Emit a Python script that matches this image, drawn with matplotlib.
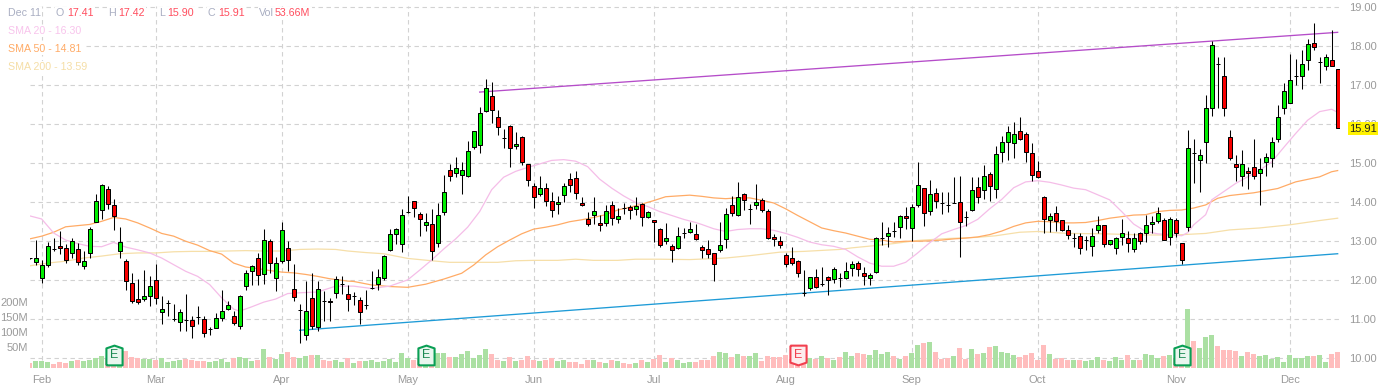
import numpy as np
import matplotlib
matplotlib.use("Agg")
import matplotlib.pyplot as plt
from matplotlib.transforms import blended_transform_factory

plt.rcParams['font.family'] = ['Liberation Sans', 'DejaVu Sans']

# === DATA: one value per trading day ===
opens = [
    12.56, 12.47, 12.06, 12.39, 12.81, 12.88, 12.82, 12.70, 12.80, 12.37,
    12.70, 13.50, 13.80, 14.34, 13.93, 12.75, 12.50, 11.93, 11.52, 11.52,
    11.60, 12.01, 11.18, 11.42, 11.02, 10.93, 10.98, 10.98, 11.07, 11.01,
    10.75, 10.78, 11.03, 11.27, 11.09, 10.83, 11.85, 12.24, 12.57, 12.16,
    13.01, 12.06, 12.50, 12.82, 11.78, 11.23, 10.61, 11.55, 10.80, 11.47,
    11.47, 11.67, 11.91, 11.65, 11.59, 11.49, 11.36, 11.80, 11.91, 12.05,
    12.78, 13.18, 12.92, 13.75, 14.04, 13.69, 13.41, 13.44, 12.95, 13.74,
    14.82, 14.74, 14.69, 14.67, 15.41, 15.46, 16.33, 16.72, 16.18, 15.64,
    15.95, 15.44, 15.67, 14.97, 14.41, 14.20, 14.36, 14.03, 13.95, 14.18,
    14.59, 14.62, 13.97, 13.56, 13.67, 13.46, 13.46, 13.92, 13.56, 13.85,
    13.87, 13.82, 13.95, 13.62, 13.54, 13.31, 13.00, 12.87, 12.82, 13.20,
    13.23, 13.18, 12.86, 12.80, 12.70, 12.78, 13.06, 13.93, 13.68, 14.21,
    13.83, 13.93, 14.06, 13.78, 13.11, 13.01, 12.65, 12.57, 12.50, 11.68,
    11.80, 12.09, 11.91, 12.09, 12.03, 12.06, 12.06, 12.32, 12.45, 12.19,
    12.06, 12.21, 13.09, 13.13, 13.27, 13.36, 13.64, 13.33, 13.92, 14.36,
    13.77, 14.23, 13.99, 13.94, 13.97, 14.00, 13.63, 13.79, 14.38, 14.31,
    14.72, 14.33, 15.28, 15.54, 15.51, 15.82, 15.74, 15.26, 14.79, 14.13,
    13.54, 13.72, 13.54, 13.28, 13.09, 13.13, 13.04, 12.87, 13.28, 13.41,
    12.92, 12.82, 13.10, 13.08, 12.79, 13.21, 13.21, 13.44, 13.51, 13.54,
    13.10, 13.54, 12.95, 13.36, 15.25, 15.07, 15.55, 16.40, 17.55, 17.22,
    15.68, 14.99, 14.68, 14.81, 14.91, 14.76, 15.04, 15.12, 15.63, 16.40,
    16.55, 17.22, 17.22, 17.63, 18.07, 17.60, 17.48, 17.63, 17.41,
]
highs = [
    12.57, 13.03, 12.53, 12.99, 13.09, 13.25, 12.92, 13.09, 12.96, 12.74,
    13.37, 14.20, 14.47, 14.41, 14.07, 13.37, 12.55, 12.19, 12.03, 12.27,
    12.12, 12.42, 11.61, 11.50, 11.38, 11.27, 11.66, 11.09, 11.35, 11.09,
    10.80, 11.16, 11.74, 11.48, 11.21, 11.63, 12.27, 12.40, 12.70, 13.32,
    13.06, 12.60, 13.50, 13.01, 12.42, 11.38, 11.97, 12.19, 11.97, 11.72,
    11.55, 12.12, 12.12, 11.89, 11.71, 11.58, 11.76, 12.25, 12.30, 12.65,
    13.32, 13.35, 13.82, 14.16, 14.04, 13.75, 13.72, 13.82, 13.97, 14.69,
    14.98, 15.15, 15.02, 15.57, 15.82, 16.44, 17.15, 17.08, 16.37, 15.88,
    15.97, 15.80, 15.70, 14.97, 14.49, 14.67, 14.50, 14.27, 14.15, 14.50,
    14.74, 14.80, 14.13, 13.74, 14.13, 13.67, 13.92, 14.03, 13.85, 13.97,
    13.93, 14.13, 13.97, 13.77, 13.54, 13.33, 13.46, 12.92, 13.36, 13.33,
    13.50, 13.44, 12.91, 13.04, 12.70, 13.50, 13.85, 14.17, 14.52, 14.24,
    13.96, 14.47, 14.11, 13.83, 13.19, 13.14, 12.70, 12.86, 12.52, 12.27,
    12.09, 12.29, 12.34, 12.12, 12.34, 12.19, 12.46, 12.50, 12.50, 12.34,
    12.19, 13.11, 13.50, 13.36, 13.50, 13.67, 13.87, 13.95, 15.03, 14.36,
    14.57, 14.36, 14.26, 14.26, 14.64, 14.66, 13.78, 14.64, 14.64, 14.95,
    14.77, 15.44, 15.69, 15.95, 16.05, 16.18, 15.79, 15.51, 15.05, 14.15,
    13.72, 13.90, 13.54, 13.41, 13.21, 13.21, 13.14, 13.33, 13.64, 13.41,
    13.02, 13.10, 13.56, 13.26, 13.21, 13.23, 13.67, 13.64, 13.87, 13.59,
    13.62, 13.59, 12.95, 15.85, 15.61, 15.37, 16.74, 18.12, 17.71, 17.71,
    15.86, 15.22, 15.33, 14.91, 15.63, 15.12, 15.25, 15.68, 16.48, 17.04,
    17.79, 17.66, 17.89, 18.17, 18.58, 17.71, 17.79, 18.40, 17.42,
]
lows = [
    12.55, 12.40, 11.92, 12.33, 12.74, 12.67, 12.44, 12.56, 12.39, 12.29,
    12.58, 13.49, 13.56, 13.83, 13.30, 12.57, 11.74, 11.42, 11.38, 11.46,
    11.33, 11.38, 10.87, 11.08, 10.97, 10.69, 10.71, 10.51, 10.89, 10.56,
    10.61, 10.78, 10.97, 11.23, 10.85, 10.74, 11.76, 11.89, 11.89, 11.91,
    12.19, 11.72, 12.45, 12.23, 11.46, 10.39, 10.48, 10.74, 10.69, 10.95,
    10.95, 11.55, 11.66, 11.21, 11.36, 10.88, 11.27, 11.78, 11.76, 12.02,
    12.76, 12.93, 12.73, 13.72, 13.63, 13.14, 13.25, 12.52, 12.86, 13.66,
    14.53, 14.64, 14.21, 14.64, 15.37, 15.27, 16.32, 16.04, 15.73, 15.38,
    14.89, 15.36, 14.96, 14.42, 13.86, 14.16, 13.89, 13.62, 13.71, 14.00,
    14.27, 14.08, 13.89, 13.38, 13.44, 13.27, 13.39, 13.41, 13.46, 13.70,
    13.56, 13.68, 13.39, 13.59, 12.98, 12.85, 12.92, 12.46, 12.79, 13.08,
    13.20, 13.02, 12.57, 12.57, 11.97, 12.72, 12.83, 13.64, 13.64, 13.80,
    13.43, 13.83, 13.75, 13.07, 12.87, 12.82, 12.34, 12.39, 12.08, 11.59,
    11.74, 11.80, 11.85, 11.62, 11.92, 11.82, 12.03, 12.10, 12.10, 11.89,
    11.87, 12.19, 12.91, 12.86, 13.12, 13.09, 13.32, 13.00, 13.87, 13.40,
    13.68, 13.85, 13.70, 13.74, 13.97, 12.59, 13.39, 13.77, 13.97, 14.08,
    14.04, 14.11, 15.03, 15.08, 15.14, 15.59, 15.03, 14.54, 14.61, 13.22,
    13.24, 13.25, 13.26, 13.07, 12.86, 12.67, 12.78, 12.63, 13.21, 12.84,
    12.90, 12.68, 12.90, 12.72, 12.73, 12.93, 12.97, 13.21, 13.46, 13.02,
    12.91, 13.10, 12.41, 13.27, 14.50, 14.26, 15.01, 16.21, 16.42, 16.21,
    15.09, 14.55, 14.42, 14.34, 14.60, 13.93, 14.68, 14.91, 15.53, 16.26,
    16.53, 16.99, 16.91, 17.38, 17.91, 17.06, 17.38, 17.48, 15.90,
]
closes = [
    12.56, 12.57, 12.39, 12.87, 12.81, 12.83, 12.52, 13.01, 12.48, 12.50,
    13.32, 14.03, 14.44, 13.96, 13.65, 12.98, 11.98, 11.47, 11.45, 11.60,
    11.85, 11.55, 11.27, 11.42, 11.02, 11.19, 10.98, 10.83, 11.07, 10.65,
    10.75, 11.03, 11.21, 11.37, 10.91, 11.60, 12.19, 12.37, 12.13, 13.03,
    12.45, 12.45, 13.29, 12.52, 11.57, 11.23, 11.21, 10.83, 11.78, 11.47,
    11.45, 12.03, 11.91, 11.52, 11.59, 11.19, 11.36, 11.80, 12.09, 12.61,
    13.18, 13.31, 13.67, 13.75, 13.85, 13.56, 13.48, 12.74, 13.67, 14.26,
    14.67, 14.87, 14.82, 15.31, 15.82, 16.28, 16.92, 16.36, 15.92, 15.64,
    15.38, 15.49, 15.03, 14.56, 14.13, 14.36, 14.03, 13.80, 14.00, 14.41,
    14.44, 14.23, 13.92, 13.44, 13.77, 13.41, 13.77, 13.59, 13.64, 13.85,
    13.79, 13.90, 13.62, 13.74, 13.49, 12.90, 13.08, 12.77, 13.13, 13.20,
    13.31, 13.05, 12.78, 12.68, 12.42, 12.91, 13.70, 13.73, 14.14, 14.06,
    13.83, 14.01, 13.80, 13.09, 13.06, 12.91, 12.42, 12.45, 12.19, 11.68,
    12.09, 11.83, 11.91, 12.01, 12.29, 12.06, 12.24, 12.42, 12.29, 12.11,
    12.14, 13.09, 13.09, 13.21, 13.27, 13.64, 13.59, 13.87, 14.44, 13.72,
    14.21, 14.03, 13.99, 13.94, 13.97, 13.49, 13.63, 14.31, 14.13, 14.67,
    14.41, 15.23, 15.54, 15.79, 15.74, 15.62, 15.28, 14.69, 14.64, 13.56,
    13.64, 13.51, 13.28, 13.15, 13.09, 12.82, 13.04, 13.13, 13.41, 12.92,
    13.02, 13.08, 13.21, 12.95, 13.08, 13.00, 13.41, 13.49, 13.72, 13.02,
    13.56, 13.21, 12.51, 15.40, 15.25, 15.22, 16.40, 18.02, 17.55, 16.40,
    15.12, 14.89, 14.99, 14.74, 14.68, 14.86, 15.17, 15.55, 16.17, 16.86,
    17.14, 17.22, 17.53, 18.04, 17.97, 17.60, 17.71, 17.50, 15.91,
]
volumes = [
    19, 23, 26, 22, 16, 21, 19, 23, 28, 24,
    29, 36, 42, 30, 32, 35, 58, 38, 33, 31,
    31, 28, 34, 22, 26, 28, 31, 28, 23, 26,
    21, 23, 32, 22, 33, 38, 33, 26, 28, 64,
    39, 32, 48, 54, 38, 34, 41, 44, 44, 29,
    26, 28, 20, 33, 17, 23, 23, 27, 21, 23,
    32, 20, 50, 33, 27, 30, 30, 40, 50, 50,
    37, 37, 47, 57, 33, 43, 63, 47, 27, 23,
    37, 23, 27, 40, 27, 23, 27, 33, 23, 27,
    20, 20, 13, 27, 27, 20, 17, 27, 23, 17,
    13, 17, 27, 20, 30, 43, 20, 33, 27, 17,
    20, 21, 27, 29, 40, 53, 50, 37, 47, 40,
    40, 50, 23, 40, 37, 37, 43, 30, 30, 30,
    33, 30, 40, 33, 27, 37, 53, 40, 50, 47,
    43, 60, 47, 53, 40, 30, 40, 50, 77, 83,
    87, 53, 30, 33, 40, 67, 30, 63, 47, 50,
    70, 73, 53, 50, 43, 37, 43, 50, 27, 77,
    47, 30, 33, 27, 27, 27, 23, 27, 37, 27,
    23, 37, 27, 43, 27, 27, 47, 43, 33, 40,
    43, 35, 40, 197, 90, 67, 103, 110, 73, 60,
    60, 57, 40, 53, 47, 40, 43, 30, 37, 20,
    43, 33, 33, 40, 40, 43, 20, 47, 53.66,
]
# days with open == close whose volume bar is red
doji_down = [0, 4, 26, 28, 49, 99, 129, 135, 144, 152, 153, 156, 194, 198]

# moving averages, read at the listed days
sma20_days = [0, 2, 4, 6, 8, 10, 12, 14, 16, 18, 20, 22, 24, 26, 28, 30, 32, 34, 35, 37, 39, 41, 43, 45, 48, 51,
              54, 57, 60, 63, 65, 67, 69, 71, 73, 75, 77, 79, 81, 83, 85, 87, 89, 91, 93, 95, 97, 99, 101, 103,
              105, 107, 109, 111, 112, 114, 116, 118, 120, 122, 124, 126, 128, 130, 132, 134, 136, 138, 140,
              142, 144, 146, 148, 150, 152, 154, 156, 158, 160, 162, 164, 166, 168, 170, 172, 174, 176, 178,
              180, 182, 184, 186, 188, 191, 192, 193, 194, 196, 197, 199, 201, 203, 205, 207, 209, 211, 213,
              215, 217, 218]
sma20 = [13.65, 13.57, 13.21, 13.03, 12.94, 12.87, 12.86, 12.97, 12.85, 12.78, 12.70, 12.57, 12.40, 12.23, 12.10,
         11.89, 11.55, 11.26, 11.21, 11.32, 11.44, 11.52, 11.66, 11.68, 11.70, 11.85,
         11.85, 11.79, 11.85, 12.01, 12.26, 12.52, 12.80, 13.06, 13.36, 13.76, 14.32, 14.64, 14.79, 14.89, 14.98,
         15.07, 15.09, 15.05, 14.91, 14.59, 14.36, 14.16, 13.99, 13.89, 13.76, 13.66, 13.56, 13.48,
         13.43, 13.32, 13.25, 13.30, 13.32, 13.32, 13.28, 13.20, 13.10, 12.98, 12.91, 12.87, 12.79, 12.60, 12.44,
         12.36, 12.36, 12.46, 12.70, 12.96, 13.19, 13.30, 13.40, 13.56, 13.83, 14.07, 14.37, 14.52, 14.55,
         14.51, 14.44, 14.36, 14.32, 14.19, 14.06, 13.76, 13.44, 13.25, 13.19, 13.16, 13.14, 13.22, 13.42, 13.68,
         14.06, 14.27, 14.48, 14.65, 14.82, 15.03, 15.40, 15.76, 16.10, 16.32, 16.38, 16.30]

sma50_days = [0, 2, 4, 6, 8, 10, 12, 14, 16, 18, 20, 22, 24, 26, 28, 30, 32, 34, 36, 38, 40, 42, 44, 46, 48, 50, 53,
              54, 57, 60, 63, 66, 69, 72, 74, 76, 78, 80, 82, 84, 86, 88, 90, 92, 94, 96, 98, 100, 102, 104, 106,
              108, 110, 112, 114, 116, 118, 120, 122, 124, 126, 128, 130, 132, 134, 136, 138, 140, 142, 144, 146,
              148, 150, 152, 154, 156, 158, 160, 162, 164, 166, 168, 170, 172, 174, 176, 178, 180, 182, 184, 186,
              188, 190, 192, 194, 196, 198, 200, 204, 208, 211, 215, 217, 218]
sma50 = [13.06, 13.13, 13.23, 13.37, 13.40, 13.43, 13.51, 13.61, 13.57, 13.47, 13.34, 13.20, 13.13, 13.00, 12.90,
         12.76, 12.67, 12.44, 12.34, 12.30, 12.25, 12.21, 12.19, 12.15, 12.10, 12.04, 11.98,
         11.97, 11.88, 11.84, 11.82, 11.90, 12.03, 12.18, 12.39, 12.65, 12.86, 13.03, 13.19, 13.31, 13.36, 13.42,
         13.50, 13.55, 13.61, 13.68, 13.80, 13.87, 13.95, 14.04, 14.14, 14.16, 14.18,
         14.15, 14.11, 14.09, 14.11, 14.11, 14.05, 13.98, 13.83, 13.66, 13.50, 13.34, 13.27, 13.21, 13.13, 13.05,
         13.03, 12.98, 13.00, 13.00, 13.01, 13.03, 13.06, 13.08, 13.11, 13.17, 13.26, 13.38, 13.47, 13.51,
         13.50, 13.47, 13.47, 13.48, 13.53, 13.59, 13.63, 13.67, 13.68, 13.76, 13.79, 13.80, 13.85, 13.93, 14.10,
         14.17, 14.24, 14.35, 14.52, 14.65, 14.78, 14.81]

sma200_days = [0, 3, 6, 9, 12, 15, 18, 21, 24, 27, 30, 33, 36, 39, 42, 45, 48, 51, 53, 56, 59, 63, 67, 70, 75, 78,
               81, 84, 88, 91, 94, 98, 101, 105, 110, 116, 120, 125, 129, 135, 137, 141, 144, 148, 153, 158, 161,
               165, 168, 173, 179, 186, 191, 196, 200, 205, 210, 215, 218]
sma200 = [12.37, 12.44, 12.49, 12.57, 12.62, 12.68, 12.70, 12.70, 12.73, 12.74, 12.74, 12.75, 12.76, 12.75, 12.75,
          12.79, 12.80, 12.79, 12.75, 12.71, 12.68, 12.56, 12.50, 12.46, 12.46, 12.46,
          12.50, 12.51, 12.51, 12.54, 12.51, 12.51, 12.54, 12.54, 12.53, 12.57, 12.63, 12.72, 12.74, 12.79, 12.83,
          12.89, 12.94, 13.02, 13.07, 13.10, 13.14, 13.23, 13.25, 13.20, 13.19, 13.16, 13.16, 13.20, 13.29, 13.34,
          13.42, 13.53, 13.59]

# trend lines
resist_days = [75, 218]
resist_vals = [16.82, 18.35]
support_days = [45, 218]
support_vals = [10.72, 12.68]

month_days = [2, 21, 42, 63, 84, 104, 126, 147, 168, 191, 210]
month_labels = ['Feb', 'Mar', 'Apr', 'May', 'Jun', 'Jul', 'Aug', 'Sep', 'Oct', 'Nov', 'Dec']
price_ticks = [10, 11, 12, 13, 14, 15, 16, 17, 18, 19]
vol_ticks = [50, 100, 150, 200]
vol_tick_labels = ['50M', '100M', '150M', '200M']

earn_days_beat = [14, 66, 192]
earn_days_miss = [128]

# === LAYOUT (pixels of the reference) ===
W, H = 1384, 391
PX_LEFT, PX_RIGHT, PX_TOP, PX_BOTTOM = 30, 1340, 6.17, 368.3
BAR_PX = 6.0
FIRST_BAR_PX = 29.67
VOL_PX_PER_M = 0.30

GRID = '#d2d2d2'
TICK = '#9a9a9a'
UP = '#00ee00'
DOWN = '#f80000'
VOL_UP = '#abe0a3'
VOL_DOWN = '#ffbdbd'

days = np.arange(len(closes))
o = np.array(opens)
h = np.array(highs)
l = np.array(lows)
c = np.array(closes)
vol = np.array(volumes)
is_up = (c > o) | ((c == o) & ~np.isin(days, doji_down))

fig = plt.figure(figsize=(W / 100, H / 100), dpi=100, facecolor='white')
ax = fig.add_axes([PX_LEFT / W, 1 - PX_BOTTOM / H, (PX_RIGHT - PX_LEFT) / W, (PX_BOTTOM - PX_TOP) / H])
ax.set_xlim((PX_LEFT - FIRST_BAR_PX) / BAR_PX, (PX_RIGHT - FIRST_BAR_PX) / BAR_PX)
ax.set_ylim(9.746, 19.02)
for s in ax.spines.values():
    s.set_visible(False)

ax.set_axisbelow(True)
ax.grid(True, color=GRID, lw=0.8, linestyle=(0, (4, 3.2)))
ax.set_xticks(month_days, month_labels)
ax.set_yticks(price_ticks, [f'{p:.2f}' for p in price_ticks])

# === MOVING AVERAGES AND TREND LINES ===
ax.plot(sma200_days, sma200, color='#f6dfa9', lw=0.9, zorder=2)
ax.plot(sma50_days, sma50, color='#ffab66', lw=0.9, zorder=2)
ax.plot(sma20_days, sma20, color='#f5bde8', lw=0.9, zorder=2)
ax.plot(resist_days, resist_vals, color='#b54cc9', lw=0.95, zorder=2.5)
ax.plot(support_days, support_vals, color='#1e9bd7', lw=0.95, zorder=2.5)

# === CANDLES ===
ax.vlines(days, l, h, color='black', lw=0.75, zorder=3)
body_colors = [UP if u else DOWN for u in is_up]
ax.bar(days, np.abs(c - o), bottom=np.minimum(o, c), width=0.64, color=body_colors,
       edgecolor='black', linewidth=0.72, zorder=4)

# === VOLUME ===
ax2 = ax.twinx()
ax2.set_ylim(0, (PX_BOTTOM - PX_TOP) / VOL_PX_PER_M)
for s in ax2.spines.values():
    s.set_visible(False)
ax2.patch.set_visible(False)
ax2.bar(days, vol, width=0.83, color=[VOL_UP if u else VOL_DOWN for u in is_up], linewidth=0, zorder=2)
ax2.yaxis.tick_left()
ax2.set_yticks(vol_ticks, vol_tick_labels)
ax2.tick_params(axis='y', length=0, pad=1.5, labelsize=8, labelcolor=TICK)
for lab in ax2.get_yticklabels():
    lab.set_verticalalignment('bottom')

# twinx moves the price ticks, so put them on the right after it
ax.yaxis.tick_right()
ax.tick_params(axis='x', length=0, pad=4.5, labelsize=8, labelcolor=TICK)
ax.tick_params(axis='y', length=0, pad=6.5, labelsize=8, labelcolor=TICK)

# === EARNINGS BADGES ===
BADGE_Y = 46
house_up = [(-0.82, -1), (0.82, -1), (0.82, 0.72), (0, 1), (-0.82, 0.72), (-0.82, -1)]
house_down = [(-0.82, 1), (0.82, 1), (0.82, -0.72), (0, -1), (-0.82, -0.72), (-0.82, 1)]
ax2.plot(earn_days_beat, [BADGE_Y] * len(earn_days_beat), linestyle='none', marker=house_up, ms=14.2,
         mfc='#e9f6ee', mec='#0a9f55', mew=1.5, zorder=6)
ax2.plot(earn_days_miss, [BADGE_Y] * len(earn_days_miss), linestyle='none', marker=house_down, ms=14.2,
         mfc='#fdeced', mec='#f2404f', mew=1.5, zorder=6)
for d in earn_days_beat:
    ax2.text(d, BADGE_Y, 'E', color='#1b8a52', fontsize=9, ha='center', va='center', zorder=7)
for d in earn_days_miss:
    ax2.text(d, BADGE_Y, 'E', color='#f2404f', fontsize=9, ha='center', va='center', zorder=7)

# === LAST PRICE TAG ===
tag = blended_transform_factory(ax.transAxes, ax.transData)
ax.text(1.0068, closes[-1], f'{closes[-1]:.2f}', transform=tag, fontsize=8, color='#222222', va='center_baseline',
        ha='left', zorder=10, bbox=dict(boxstyle='square,pad=0.12', fc='#fff200', ec='none'))

# === HEADER TEXT ===
def header(x, y, txt, color):
    fig.text(x / W, 1 - y / H, txt, color=color, fontsize=7.7, va='center',
             bbox=dict(fc='white', ec='none', pad=1))

GRAY = '#a9aec2'
RED = '#ff4d5e'
header(8, 13, 'Dec 11', GRAY)
header(56, 13, 'O', GRAY)
header(67, 13, f'{opens[-1]:.2f}', RED)
header(108, 13, 'H', GRAY)
header(118, 13, f'{highs[-1]:.2f}', RED)
header(159, 13, 'L', GRAY)
header(167, 13, f'{lows[-1]:.2f}', RED)
header(208, 13, 'C', GRAY)
header(218, 13, f'{closes[-1]:.2f}', RED)
header(259, 13, 'Vol', GRAY)
header(275, 13, f'{volumes[-1]:.2f}M', RED)
header(8, 31, f'SMA 20 - {sma20[-1]:.2f}', '#f8c4ec')
header(8, 49, f'SMA 50 - {sma50[-1]:.2f}', '#ffab66')
header(8, 67, f'SMA 200 - {sma200[-1]:.2f}', '#f5dea6')

fig.savefig('out.png', dpi=100)
